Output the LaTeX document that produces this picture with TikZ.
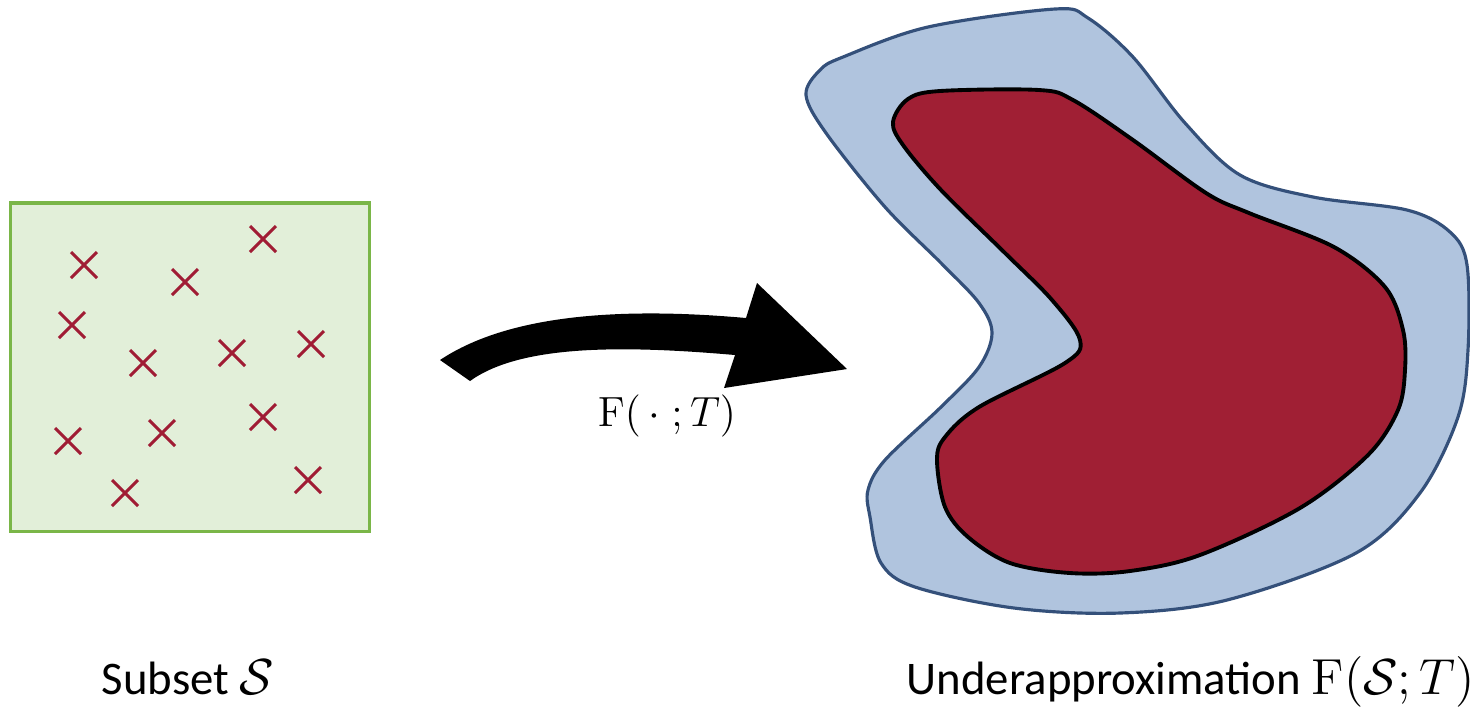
\documentclass[tikz,border=0pt]{standalone}
\usepackage[no-math]{fontspec}
\setmainfont{Carlito}
\usetikzlibrary{positioning}
\definecolor{boxgreen}{HTML}{7AB648}
\definecolor{boxfill}{HTML}{E2EFD9}
\definecolor{ptred}{HTML}{A01C34}
\definecolor{blobred}{HTML}{A01F34}
\definecolor{blobblue}{HTML}{B0C4DE}
\definecolor{blobedge}{HTML}{34507A}
\tikzset{setbox/.style={draw=boxgreen,fill=boxfill,line width=0.9pt,minimum width=3.58cm,minimum height=3.28cm,inner sep=0pt},
pt/.style={draw=ptred,line width=0.85pt},
lbl/.style={anchor=base,inner sep=0pt,font=\fontsize{13.3}{16}\selectfont}}

\begin{document}
\begin{tikzpicture}[x=0.01cm,y=-0.01cm]
\useasboundingbox(0,0)rectangle(1470,714);
% sampled subset
\node[setbox](subset)at(190,367){};
\foreach\x/\y in{84/265,185/282,263/239,72/325,143/363,232/353,311/344,68/441,162/433,263/417,125/493,308/480}
  \draw[pt](\x-13,\y-13)--(\x+13,\y+13)(\x-13,\y+13)--(\x+13,\y-13);
% mapping arrow
\fill(440,360)..controls(500,320)and(600,305)..(746,318)--(757,283)--(847,369)--(724,388)--(735,355)
  ..controls(620,345)and(520,345)..(470,381)--cycle;
\node[lbl,font=\fontsize{12.5}{15}\selectfont](map)at(667,426){$\mathrm{F}(\,\cdot\;;T)$};
% outer set and underapproximation
\draw[fill=blobblue,draw=blobedge,line width=0.9pt]plot[smooth cycle,tension=0.55]coordinates{
  (1055,9)(1088,18)(1133,57)(1185,123)(1240,175)(1313,197)(1407,210)(1450,232)(1467,265)(1468,350)
  (1458,417)(1420,493)(1356,553)(1227,600)(1120,613)(1014,608)(915,587)(881,563)(870,517)(868,490)
  (885,460)(941,407)(979,367)(992,333)(979,303)(941,263)(885,207)(826,133)(806,95)(820,70)(843,57)(928,27)};
\draw[fill=blobred,line width=1.1pt]plot[smooth cycle,tension=0.55]coordinates{
  (1039,90)(1073,100)(1133,140)(1206,193)(1249,213)(1334,247)(1385,287)(1403,330)(1405,370)(1398,410)
  (1368,455)(1300,508)(1200,555)(1130,571)(1070,573)(1010,563)(968,537)(945,507)(937,460)(945,437)(979,407)
  (1065,363)(1080,340)(1052,300)(1005,253)(941,190)(903,145)(893,122)(908,99)(940,91)};
% labels
\node[lbl](subsetlbl)at(188,694){Subset $\mathcal{S}$};
\node[lbl](underlbl)at(1191,694){Underapproximation $\mathrm{F}(\mathcal{S};T)$};
\end{tikzpicture}
\end{document}
